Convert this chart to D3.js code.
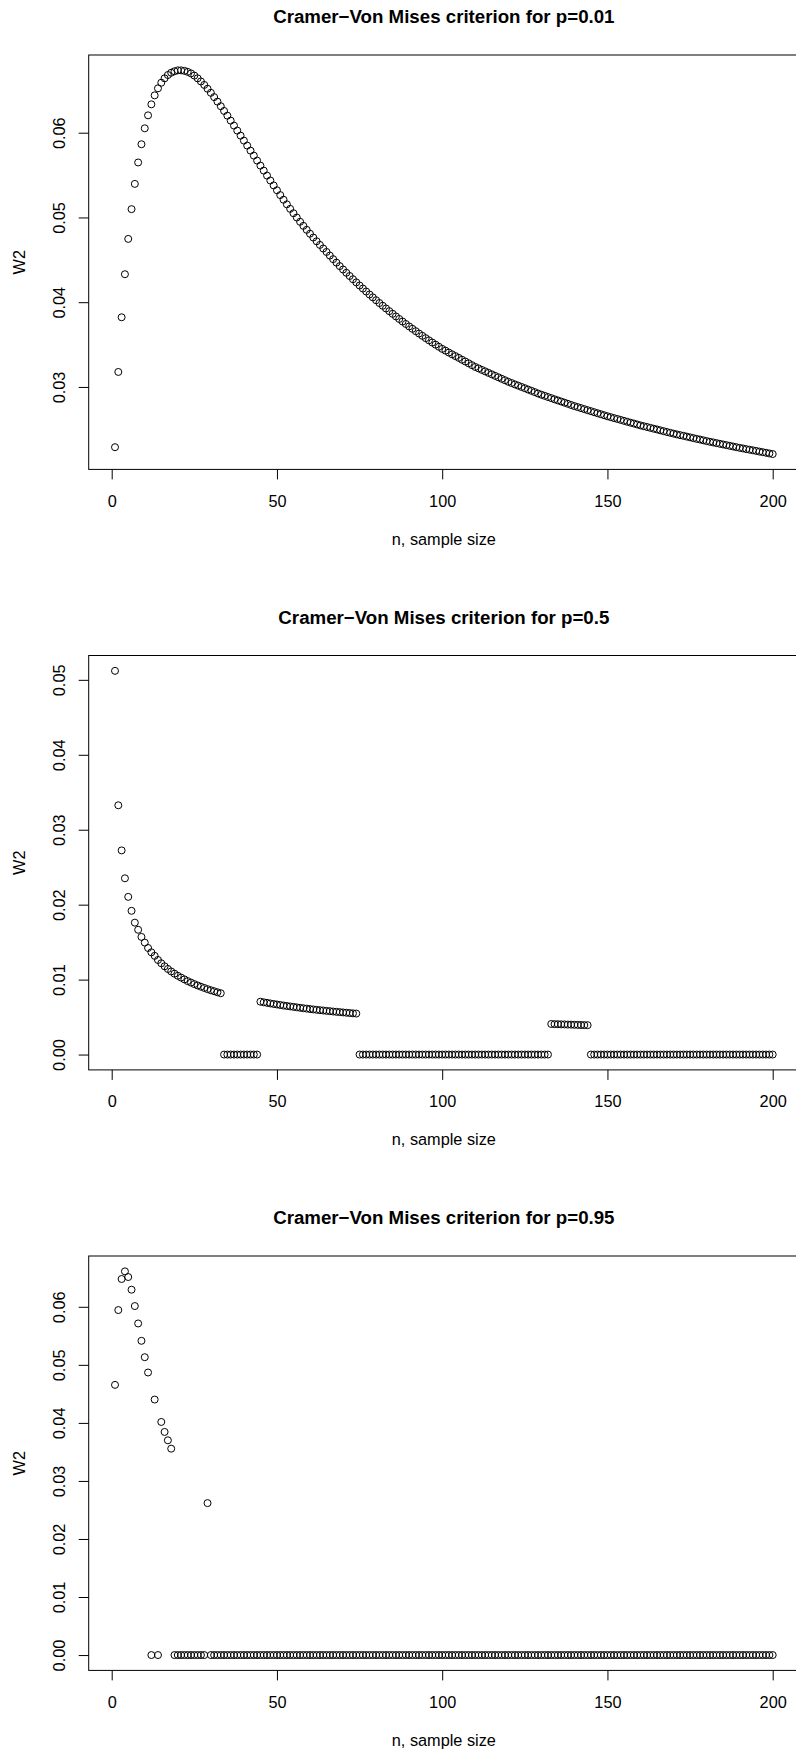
<!DOCTYPE html>
<html>
<head>
<meta charset="utf-8">
<script src="https://cdn.jsdelivr.net/npm/d3@7"></script>
<style>
body { margin: 0; background: #fff; }
svg { display: block; font-family: "Liberation Sans", Arial, Helvetica, sans-serif; }
</style>
</head>
<body>
<svg width="796" height="1753"></svg>
<script>
// sample sizes n = 1..200
const sampleSize = d3.range(1, 201)

const xTicks = [0, 50, 100, 150, 200]

const titles = [
    'Cramer\u2212Von Mises criterion for p=0.01',
    'Cramer\u2212Von Mises criterion for p=0.5',
    'Cramer\u2212Von Mises criterion for p=0.95'
]

const yTicks001 = [0.03, 0.04, 0.05, 0.06]
const yTicks05 = [0, 0.01, 0.02, 0.03, 0.04, 0.05]
const yTicks095 = [0, 0.01, 0.02, 0.03, 0.04, 0.05, 0.06]

// W2 for p = 0.01
const w2p001 = [
    0.02289, 0.03177, 0.03822, 0.04330, 0.04747, 0.05098, 0.05396, 0.05649, 0.05864, 0.06052,
    0.06205, 0.06335, 0.06441, 0.06524, 0.06590, 0.06642, 0.06681, 0.06708, 0.06725, 0.06736,
    0.06736, 0.06730, 0.06718, 0.06700, 0.06674, 0.06642, 0.06605, 0.06564, 0.06519, 0.06471,
    0.06420, 0.06367, 0.06313, 0.06257, 0.06201, 0.06143, 0.06084, 0.06025, 0.05966, 0.05907,
    0.05848, 0.05789, 0.05730, 0.05671, 0.05612, 0.05553, 0.05494, 0.05436, 0.05378, 0.05321,
    0.05264, 0.05209, 0.05155, 0.05102, 0.05050, 0.04999, 0.04949, 0.04901, 0.04854, 0.04808,
    0.04763, 0.04719, 0.04676, 0.04634, 0.04593, 0.04550, 0.04508, 0.04467, 0.04426, 0.04386,
    0.04347, 0.04309, 0.04271, 0.04234, 0.04197, 0.04161, 0.04126, 0.04091, 0.04057, 0.04023,
    0.03990, 0.03958, 0.03926, 0.03894, 0.03863, 0.03832, 0.03802, 0.03772, 0.03743, 0.03714,
    0.03686, 0.03658, 0.03630, 0.03603, 0.03576, 0.03550, 0.03524, 0.03499, 0.03474, 0.03449,
    0.03428, 0.03406, 0.03385, 0.03364, 0.03343, 0.03321, 0.03300, 0.03279, 0.03257, 0.03236,
    0.03219, 0.03201, 0.03184, 0.03166, 0.03149, 0.03131, 0.03114, 0.03096, 0.03079, 0.03061,
    0.03046, 0.03030, 0.03015, 0.03000, 0.02985, 0.02969, 0.02954, 0.02939, 0.02923, 0.02908,
    0.02895, 0.02881, 0.02868, 0.02854, 0.02841, 0.02828, 0.02814, 0.02801, 0.02787, 0.02774,
    0.02762, 0.02750, 0.02738, 0.02726, 0.02714, 0.02702, 0.02690, 0.02678, 0.02666, 0.02654,
    0.02643, 0.02632, 0.02622, 0.02611, 0.02600, 0.02589, 0.02578, 0.02568, 0.02557, 0.02546,
    0.02536, 0.02527, 0.02517, 0.02507, 0.02498, 0.02488, 0.02478, 0.02468, 0.02459, 0.02449,
    0.02440, 0.02431, 0.02423, 0.02414, 0.02405, 0.02396, 0.02387, 0.02379, 0.02370, 0.02361,
    0.02353, 0.02345, 0.02337, 0.02329, 0.02321, 0.02313, 0.02305, 0.02297, 0.02289, 0.02281,
    0.02274, 0.02266, 0.02259, 0.02252, 0.02245, 0.02237, 0.02230, 0.02223, 0.02215, 0.02208
]

// W2 for p = 0.5
const w2p05 = [
    0.05120, 0.03326, 0.02724, 0.02352, 0.02104, 0.01918, 0.01760, 0.01665, 0.01570, 0.01494,
    0.01422, 0.01364, 0.01317, 0.01262, 0.01218, 0.01178, 0.01142, 0.01109, 0.01079, 0.01051,
    0.01027, 0.01003, 0.00980, 0.00960, 0.00940, 0.00922, 0.00905, 0.00889, 0.00873, 0.00858,
    0.00845, 0.00831, 0.00818, 0, 0, 0, 0, 0, 0, 0,
    0, 0, 0, 0, 0.00705, 0.00697, 0.00690, 0.00682, 0.00675, 0.00668,
    0.00661, 0.00654, 0.00648, 0.00642, 0.00636, 0.00630, 0.00624, 0.00618, 0.00613, 0.00607,
    0.00602, 0.00597, 0.00592, 0.00588, 0.00583, 0.00579, 0.00574, 0.00570, 0.00566, 0.00562,
    0.00558, 0.00554, 0.00550, 0.00547, 0, 0, 0, 0, 0, 0,
    0, 0, 0, 0, 0, 0, 0, 0, 0, 0,
    0, 0, 0, 0, 0, 0, 0, 0, 0, 0,
    0, 0, 0, 0, 0, 0, 0, 0, 0, 0,
    0, 0, 0, 0, 0, 0, 0, 0, 0, 0,
    0, 0, 0, 0, 0, 0, 0, 0, 0, 0,
    0, 0, 0.00408, 0.00406, 0.00405, 0.00403, 0.00402, 0.00400, 0.00399, 0.00397,
    0.00396, 0.00394, 0.00393, 0.00392, 0, 0, 0, 0, 0, 0,
    0, 0, 0, 0, 0, 0, 0, 0, 0, 0,
    0, 0, 0, 0, 0, 0, 0, 0, 0, 0,
    0, 0, 0, 0, 0, 0, 0, 0, 0, 0,
    0, 0, 0, 0, 0, 0, 0, 0, 0, 0,
    0, 0, 0, 0, 0, 0, 0, 0, 0, 0
]

// W2 for p = 0.95
const w2p095 = [
    0.04655, 0.05944, 0.06479, 0.06611, 0.06513, 0.06295, 0.06013, 0.05713, 0.05414, 0.05132,
    0.04868, 0, 0.04402, 0, 0.04016, 0.03844, 0.03700, 0.03556, 0, 0,
    0, 0, 0, 0, 0, 0, 0, 0, 0.02618, 0,
    0, 0, 0, 0, 0, 0, 0, 0, 0, 0,
    0, 0, 0, 0, 0, 0, 0, 0, 0, 0,
    0, 0, 0, 0, 0, 0, 0, 0, 0, 0,
    0, 0, 0, 0, 0, 0, 0, 0, 0, 0,
    0, 0, 0, 0, 0, 0, 0, 0, 0, 0,
    0, 0, 0, 0, 0, 0, 0, 0, 0, 0,
    0, 0, 0, 0, 0, 0, 0, 0, 0, 0,
    0, 0, 0, 0, 0, 0, 0, 0, 0, 0,
    0, 0, 0, 0, 0, 0, 0, 0, 0, 0,
    0, 0, 0, 0, 0, 0, 0, 0, 0, 0,
    0, 0, 0, 0, 0, 0, 0, 0, 0, 0,
    0, 0, 0, 0, 0, 0, 0, 0, 0, 0,
    0, 0, 0, 0, 0, 0, 0, 0, 0, 0,
    0, 0, 0, 0, 0, 0, 0, 0, 0, 0,
    0, 0, 0, 0, 0, 0, 0, 0, 0, 0,
    0, 0, 0, 0, 0, 0, 0, 0, 0, 0,
    0, 0, 0, 0, 0, 0, 0, 0, 0, 0
]

const left = 88.7
const right = 799
const firstTop = 55
const boxHeight = 414.4
const panelStep = 600.5
const fontSize = 16.3

const svg = d3.select('svg')

// R style axis range: data range stretched by 4% on each side
function padded (extent) {
    const pad = (extent[1] - extent[0]) * 0.04
    return [extent[0] - pad, extent[1] + pad]
}

const xScale = d3.scaleLinear()
    .domain(padded(d3.extent(sampleSize)))
    .range([left, right])

function drawTitles (g, top, title) {
    g.append('text')
        .attr('x', (left + right) / 2)
        .attr('y', top - 31.7)
        .attr('text-anchor', 'middle')
        .attr('font-weight', 'bold')
        .attr('font-size', 18.7)
        .text(title)

    g.append('text')
        .attr('x', (left + right) / 2)
        .attr('y', top + boxHeight + 75.4)
        .attr('text-anchor', 'middle')
        .attr('font-size', fontSize)
        .text('n, sample size')

    g.append('text')
        .attr('transform', `translate(25, ${top + boxHeight / 2}) rotate(-90)`)
        .attr('text-anchor', 'middle')
        .attr('font-size', fontSize)
        .text('W2')
}

function drawPanel (index, values, yTicks) {
    const top = firstTop + index * panelStep
    const g = svg.append('g')

    const yScale = d3.scaleLinear()
        .domain(padded(d3.extent(values)))
        .range([top + boxHeight, top])

    drawTitles(g, top, titles[index])

    g.append('g')
        .attr('transform', `translate(0, ${top + boxHeight})`)
        .call(d3.axisBottom(xScale).tickValues(xTicks).tickSize(10).tickSizeOuter(0))
        .call(a => a.select('.domain').remove())
        .call(a => a.selectAll('text')
            .attr('y', 37.4)
            .attr('dy', null)
            .attr('font-size', fontSize))
        .attr('font-family', null)
        .attr('font-size', null)

    g.append('g')
        .attr('transform', `translate(${left}, 0)`)
        .call(d3.axisLeft(yScale).tickValues(yTicks).tickFormat(d3.format('.2f')).tickSize(10).tickSizeOuter(0))
        .call(a => a.select('.domain').remove())
        .call(a => a.selectAll('text')
            .attr('x', null)
            .attr('dy', null)
            .attr('text-anchor', 'middle')
            .attr('transform', 'translate(-23.7, 0) rotate(-90)')
            .attr('font-size', fontSize))
        .attr('font-family', null)
        .attr('font-size', null)

    g.append('rect')
        .attr('x', left)
        .attr('y', top)
        .attr('width', right - left)
        .attr('height', boxHeight)
        .attr('fill', 'none')
        .attr('stroke', '#000')

    g.selectAll('circle')
        .data(values)
        .enter()
        .append('circle')
        .attr('cx', (d, i) => xScale(sampleSize[i]))
        .attr('cy', (d) => yScale(d))
        .attr('r', 3.5)
        .attr('fill', 'none')
        .attr('stroke', '#000')
        .attr('stroke-width', 1)
}

drawPanel(0, w2p001, yTicks001)
drawPanel(1, w2p05, yTicks05)
drawPanel(2, w2p095, yTicks095)
</script>
</body>
</html>
